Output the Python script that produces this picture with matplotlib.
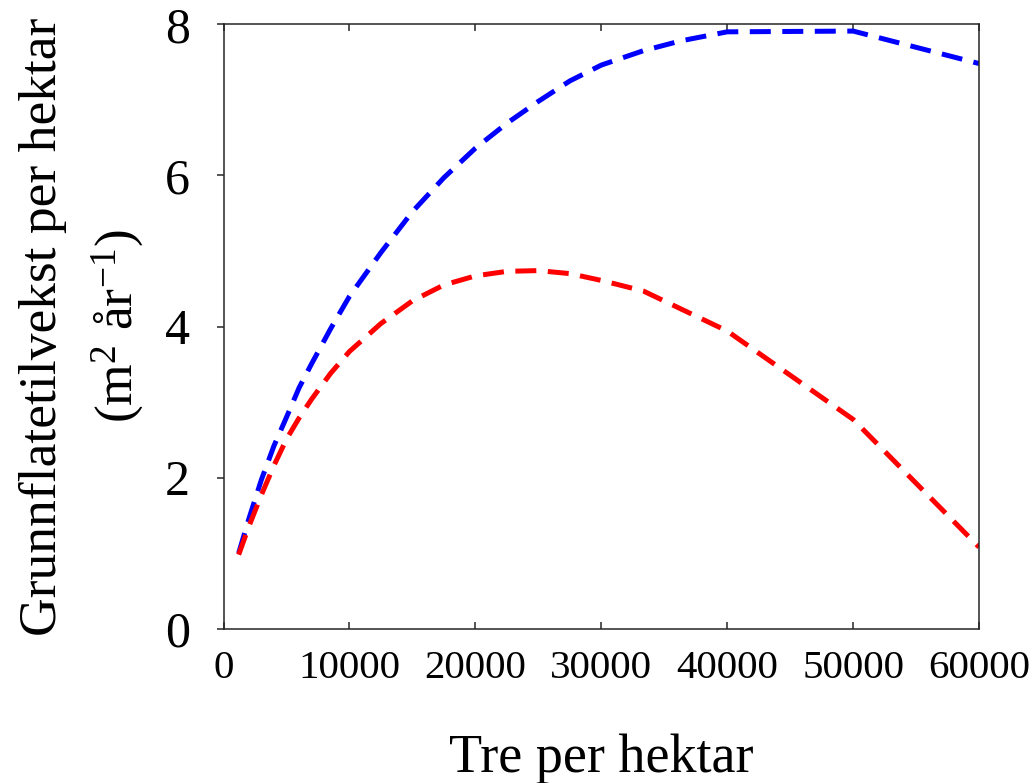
import matplotlib.pyplot as plt

plt.rcParams['font.family'] = ['Liberation Serif', 'DejaVu Serif']
plt.rcParams['mathtext.fontset'] = 'custom'
plt.rcParams['mathtext.rm'] = 'Liberation Serif'
plt.rcParams['mathtext.it'] = 'Liberation Serif'

# trees per hectare
trees_blue = [1200, 2000, 3000, 4000, 5000, 6000, 7000, 8500, 10000, 12500, 15000,
              17500, 20000, 22500, 25000, 27500, 30000, 33333, 36300, 40000, 50000, 60000]
growth_blue = [1.0, 1.45, 1.97, 2.42, 2.80, 3.19, 3.51, 3.97, 4.40, 4.98, 5.52,
               5.97, 6.36, 6.69, 6.98, 7.25, 7.46, 7.65, 7.78, 7.90, 7.91, 7.48]

trees_red = [1200, 2000, 3000, 4000, 5000, 6000, 7000, 8500, 10000, 12500, 15000,
             17500, 20000, 22500, 25000, 27500, 30000, 33333, 40000, 50000, 60000]
growth_red = [0.98, 1.35, 1.77, 2.16, 2.51, 2.79, 3.04, 3.38, 3.67, 4.04, 4.34,
              4.55, 4.67, 4.73, 4.74, 4.70, 4.61, 4.47, 3.94, 2.77, 1.08]

xticks = [0, 10000, 20000, 30000, 40000, 50000, 60000]
yticks = [0, 2, 4, 6, 8]

fig = plt.figure(figsize=(10.35, 7.83), dpi=100)
ax = fig.add_axes([0.216, 0.197, 0.730, 0.772])

ax.plot(trees_blue, growth_blue, color='blue', lw=3.6, dashes=(4.2, 2.3),
        dash_capstyle='butt')
ax.plot(trees_red, growth_red, color='red', lw=3.6, dashes=(4.2, 2.3),
        dash_capstyle='butt')

ax.set_xlim(0, 60000)
ax.set_ylim(0, 8)
ax.set_xticks(xticks)
ax.set_yticks(yticks)

for s in ax.spines.values():
    s.set_color('#262626')
    s.set_linewidth(1.1)

ax.tick_params(axis='x', direction='in', top=True, length=5, width=1.1,
               color='#262626', labelsize=29.5, pad=15)
ax.tick_params(axis='y', direction='out', right=False, length=5, width=1.1,
               color='#262626', labelsize=36, pad=19)

ax.set_xlabel('Tre per hektar', fontsize=39, labelpad=34)
ax.set_ylabel('Grunnflatetilvekst per hektar\n(m$^{2}$ år$^{-1}$)',
              fontsize=38.5, labelpad=14, linespacing=1.5)

fig.savefig('out.png', dpi=100)
